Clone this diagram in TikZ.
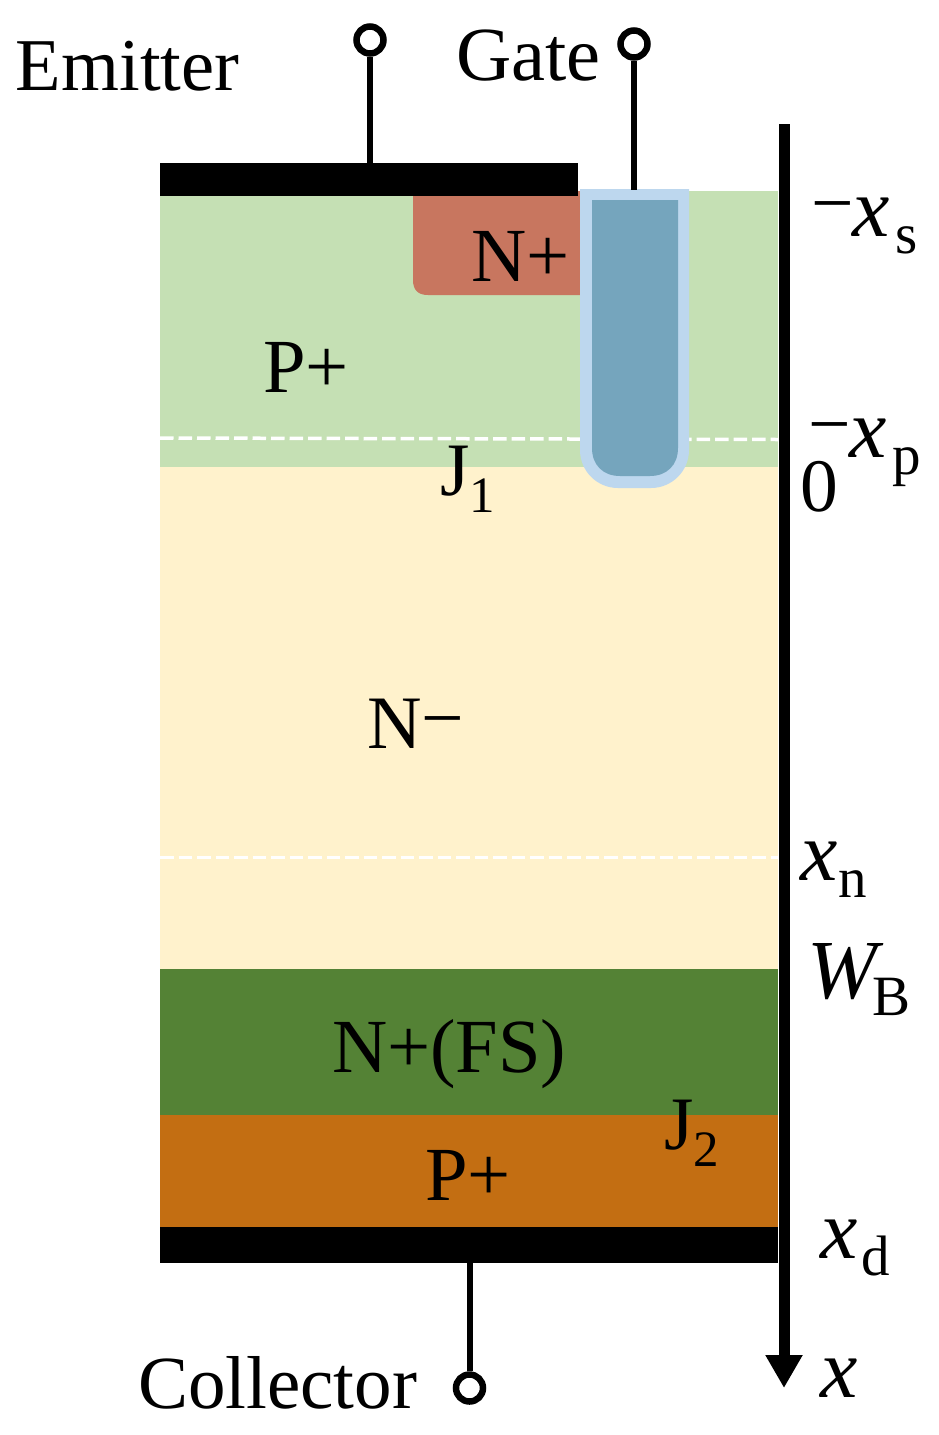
\documentclass[tikz,border=0pt]{standalone}
\usepackage{fontspec}
\setmainfont{Liberation Serif}
\usetikzlibrary{arrows.meta}
\definecolor{pgreen}{HTML}{C5E0B4}
\definecolor{nyellow}{HTML}{FFF2CC}
\definecolor{nred}{HTML}{C8765F}
\definecolor{fsgreen}{HTML}{548235}
\definecolor{porange}{HTML}{C36E12}
\definecolor{oxide}{HTML}{BDD7EE}
\definecolor{gatefill}{HTML}{75A5BD}
\newcommand{\bigsz}{\fontsize{75.5}{80}\selectfont}
\newcommand{\subsz}{\fontsize{57}{62}\selectfont}
\newcommand{\jsz}{\fontsize{51}{62}\selectfont}
\newcommand{\varx}[1]{{\fontsize{84}{90}\selectfont\textit{#1}}}
\newcommand{\lowered}[2]{\kern#1\raisebox{-17pt}{\subsz #2}}
\newcommand{\jlowered}[2]{\kern#1\raisebox{-17pt}{\jsz #2}}
\newcommand{\raisedminus}{\raisebox{8pt}{−}\kern-1pt}
\tikzset{
  lbl/.style={inner sep=0pt,outer sep=0pt,anchor=base west,font=\bigsz,text=black},
  pin/.style={circle,draw=black,fill=white,line width=6.5pt,minimum size=27pt,inner sep=0pt},
  lead/.style={line width=6pt,draw=black},
  metal/.style={fill=black,draw=none,inner sep=0pt,outer sep=0pt,anchor=north west},
  junction/.style={draw=white,dash pattern=on 13.5pt off 5pt}
}
\begin{document}
\begin{tikzpicture}[x=1pt,y=-1pt]
\useasboundingbox (0,0) rectangle (939,1435);
% layers
\fill[pgreen] (160,191) rectangle (778,467);
\fill[nyellow] (160,467) rectangle (778,969);
\fill[fsgreen] (160,969) rectangle (778,1115);
\fill[porange] (160,1115) rectangle (778,1227);
\fill[nred] (413,191) -- (413,280) .. controls (413,290) and (418,295) .. (428,295) -- (585,295) -- (585,191) -- cycle;
% junction lines
\draw[junction,line width=3.5pt] (160,438) -- (778,439.5);
\draw[junction,line width=3pt] (160,857.5) -- (778,857.5);
% metal
\node[metal,minimum width=418pt,minimum height=33pt] (emetal) at (160,163) {};
\node[metal,minimum width=618pt,minimum height=36pt] (cmetal) at (160,1227) {};
% trench
\fill[oxide] (580,189) -- (580,450) .. controls (580,471) and (597,488) .. (618,488) -- (651,488) .. controls (672,488) and (689,471) .. (689,450) -- (689,189) -- cycle;
\fill[gatefill] (592,200) -- (592,448) .. controls (592,465) and (603,476) .. (620,476) -- (650,476) .. controls (667,476) and (678,465) .. (678,448) -- (678,200) -- cycle;
\coordinate (gtop) at (634,190);
% axis
\coordinate (axtop) at (784,124);
\coordinate (axend) at (784,1388);
\draw[line width=11pt,-{Triangle[width=35pt,length=33pt]}] (axtop) -- (axend);
% pins
\node[pin] (epin) at (370,40) {};
\node[pin] (gpin) at (634,44) {};
\node[pin] (cpin) at (469.5,1388) {};
\draw[lead] (epin.south) -- (emetal.north -| epin.south);
\draw[lead] (gpin.south) -- (gtop);
\draw[lead] (cpin.north) -- (cmetal.south -| cpin.north);
% labels
\node[lbl,font=\fontsize{74.5}{80}\selectfont] (temit) at (16,90) {Emitter};
\node[lbl,font=\fontsize{76.5}{80}\selectfont] (tgate) at (456,80) {Gate};
\node[lbl,font=\fontsize{75}{80}\selectfont] (tcoll) at (138,1408) {Collector};
\node[lbl,font=\fontsize{76.5}{80}\selectfont] (tnp) at (471,281) {N+};
\node[lbl,font=\fontsize{76.5}{80}\selectfont] (tpp) at (263,392) {P+};
\node[lbl] (tj1) at (440,495) {J\jlowered{0pt}{1}};
\node[lbl] (tnm) at (367,748) {N\raisebox{5pt}{−}};
\node[lbl,font=\fontsize{76.5}{80}\selectfont] (tfs) at (332,1072) {N+(FS)};
\node[lbl,font=\fontsize{76.5}{80}\selectfont] (tpb) at (425,1200) {P+};
\node[lbl] (tj2) at (664,1149) {J\jlowered{0pt}{2}};
\node[lbl] (txs) at (811,236) {\raisedminus\varx{x}\lowered{6pt}{s}};
\node[lbl] (txp) at (808,457) {\raisedminus\varx{x}\lowered{6pt}{p}};
\node[lbl] (tzero) at (800,511) {0};
\node[lbl] (txn) at (800,880) {\varx{x}\lowered{1pt}{n}};
\node[lbl] (twb) at (807,998) {\varx{W}\lowered{-11pt}{B}};
\node[lbl] (txd) at (820,1258) {\varx{x}\lowered{4pt}{d}};
\node[lbl] (tx) at (820,1397) {\varx{x}};
\end{tikzpicture}
\end{document}
